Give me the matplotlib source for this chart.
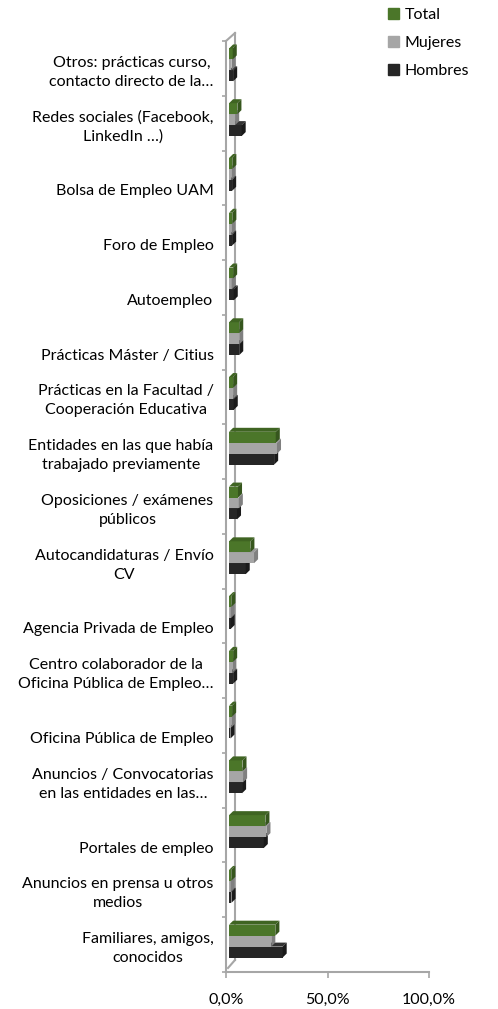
import matplotlib
matplotlib.use('Agg')
import matplotlib.pyplot as plt
from matplotlib.patches import Polygon, Patch

plt.rcParams['font.family'] = ['Lato', 'DejaVu Sans']

# Category labels (top to bottom, as shown)
categories = [
    'Otros: prácticas curso,\ncontacto directo de la…',
    'Redes sociales (Facebook,\nLinkedIn …)',
    'Bolsa de Empleo UAM',
    'Foro de Empleo',
    'Autoempleo',
    'Prácticas Máster / Citius',
    'Prácticas en la Facultad /\nCooperación Educativa',
    'Entidades en las que había\ntrabajado previamente',
    'Oposiciones / exámenes\npúblicos',
    'Autocandidaturas / Envío\nCV',
    'Agencia Privada de Empleo',
    'Centro colaborador de la\nOficina Pública de Empleo…',
    'Oficina Pública de Empleo',
    'Anuncios / Convocatorias\nen las entidades en las…',
    'Portales de empleo',
    'Anuncios en prensa u otros\nmedios',
    'Familiares, amigos,\nconocidos',
]

# Percentages per category
total = [1.8, 4.1, 1.6, 1.6, 2.0, 5.0, 2.0, 23.0, 4.4, 10.5, 1.1, 2.0, 1.5, 6.6, 17.9, 1.1, 22.8]
mujeres = [1.2, 3.0, 1.1, 1.1, 1.3, 5.0, 2.0, 23.6, 4.8, 12.3, 0.8, 1.6, 1.1, 6.9, 18.4, 0.8, 20.8]
hombres = [2.0, 6.2, 1.5, 1.5, 2.3, 5.0, 2.3, 22.2, 3.9, 8.2, 0.8, 2.0, 0.7, 6.4, 17.1, 1.2, 26.4]

xticks = [0, 50, 100]
xticklabels = ['0,0%', '50,0%', '100,0%']

# colours: front, top, side
c_total = ('#4B7629', '#3F6422', '#36561D')
c_muj = ('#A6A6A6', '#999999', '#808080')
c_hom = ('#262626', '#333333', '#1A1A1A')
wall = '#A6A6A6'
fs = 11.5

W, H = 498, 1009
fig = plt.figure(figsize=(W / 100, H / 100), dpi=100)
ax = fig.add_axes([226 / W, (H - 972) / H, 203 / W, 931 / H])

n = len(categories)
ax.set_xlim(0, 100)
ax.set_ylim(n - 0.5, -0.5)

# 3D look: bars sit a bit behind the front plane
x0 = 1.5       # bar start shift (in %)
dy0 = -0.064   # bar shift up (in category units)
ddx = 2.0      # depth in x
ddy = -0.073   # depth in y
h = 0.20


def bar3d(y, vals, cols, zorder):
    ax.barh(y, vals, left=x0, height=h, color=cols[0], zorder=zorder)
    for yc, v in zip(y, vals):
        yt = yc - h / 2
        yb = yc + h / 2
        top = Polygon([(x0, yt), (x0 + v, yt), (x0 + v + ddx, yt + ddy), (x0 + ddx, yt + ddy)],
                      closed=True, facecolor=cols[1], edgecolor='none', zorder=zorder)
        side = Polygon([(x0 + v, yt), (x0 + v, yb), (x0 + v + ddx, yb + ddy), (x0 + v + ddx, yt + ddy)],
                       closed=True, facecolor=cols[2], edgecolor='none', zorder=zorder)
        ax.add_patch(top)
        ax.add_patch(side)


idx = list(range(n))
bar3d([i + dy0 + h for i in idx], hombres, c_hom, 3)
bar3d([i + dy0 for i in idx], mujeres, c_muj, 4)
bar3d([i + dy0 - h for i in idx], total, c_total, 5)

# walls
for s in ['top', 'right']:
    ax.spines[s].set_visible(False)
for s in ['left', 'bottom']:
    ax.spines[s].set_color(wall)
    ax.spines[s].set_linewidth(1.5)
bx = 9 / 203
ax.plot([bx, bx], [12 / 931, 1 + 8 / 931], color=wall, lw=1.5, transform=ax.transAxes, clip_on=False, zorder=2)
ax.plot([0, bx], [1, 1 + 8 / 931], color=wall, lw=1.5, transform=ax.transAxes, clip_on=False, zorder=2)
ax.plot([2 / 203, bx], [4 / 931, 12 / 931], color=wall, lw=1.5, transform=ax.transAxes, clip_on=False, zorder=2)

# y axis: labels at category centres, tick marks at boundaries
labels = [c if '\n' in c else '\n' + c for c in categories]
ax.set_yticks(idx)
ax.set_yticklabels(labels, fontsize=fs, color='#000000', ha='right', multialignment='center',
                   linespacing=1.45)
ax.tick_params(axis='y', which='major', length=0, pad=9)
ax.set_yticks([i - 0.5 for i in range(n + 1)], minor=True)
ax.tick_params(axis='y', which='minor', length=3, width=1.2, color=wall, direction='out')

ax.set_xticks(xticks)
ax.set_xticklabels(xticklabels, fontsize=fs)
ax.tick_params(axis='x', length=4, width=1.2, color=wall, direction='out', pad=11)

handles = [Patch(color=c_total[0]), Patch(color=c_muj[0]), Patch(color=c_hom[0])]
fig.legend(handles, ['Total', 'Mujeres', 'Hombres'], loc='upper left',
           bbox_to_anchor=(377 / W, 1 + 3 / H), frameon=False, fontsize=fs,
           handlelength=0.7, handleheight=0.7, handletextpad=0.35, labelspacing=0.85,
           borderpad=0.2)

fig.savefig('out.png', dpi=100)
